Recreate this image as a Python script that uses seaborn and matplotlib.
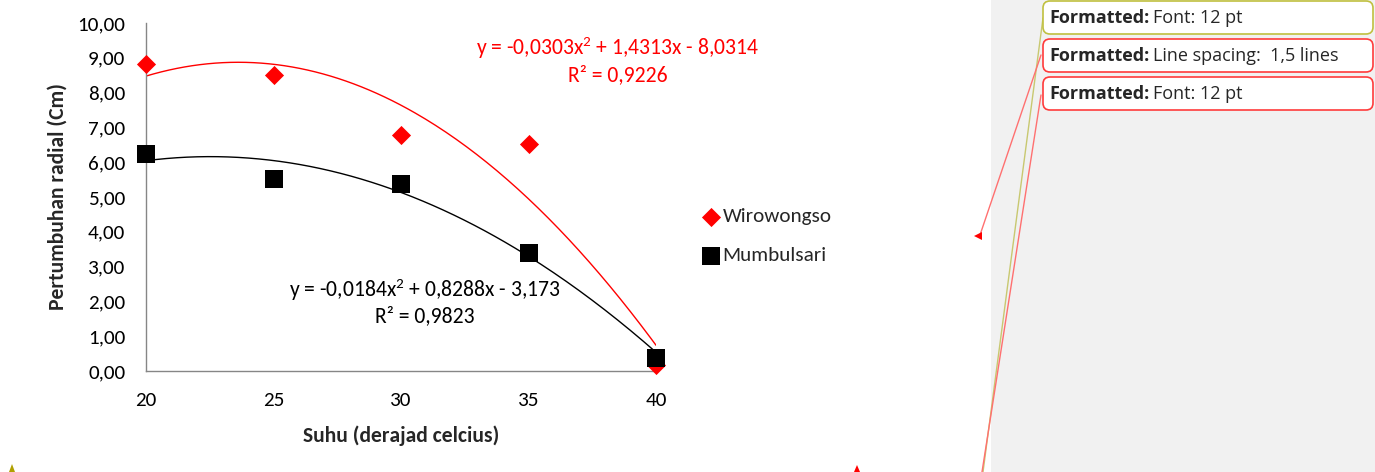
"""
Radial growth vs temperature, with Word comment balloons on the right.
"""

import numpy as np
import pandas as pd
import matplotlib
matplotlib.use("Agg")
import matplotlib.pyplot as plt
import seaborn as sns
from matplotlib.patches import FancyBboxPatch, Rectangle, Polygon
from matplotlib.lines import Line2D

# Data
suhu = [20, 25, 30, 35, 40]
wirowongso = [8.82, 8.50, 6.78, 6.52, 0.17]
mumbulsari = [6.24, 5.52, 5.37, 3.39, 0.37]

# Trendline coefficients (from the chart labels)
coef_wiro = [-0.0303, 1.4313, -8.0314]
coef_mumbul = [-0.0184, 0.8288, -3.173]
eq_wiro = ["y = -0,0303x$^2$ + 1,4313x - 8,0314", "R² = 0,9226"]
eq_mumbul = ["y = -0,0184x$^2$ + 0,8288x - 3,173", "R² = 0,9823"]

y_ticks = [0, 1, 2, 3, 4, 5, 6, 7, 8, 9, 10]
y_ticklabels = [f"{v},00" for v in y_ticks]

balloons = [
    ("Font: 12 pt", "#c0c040"),
    ("Line spacing:  1,5 lines", "#ff3b3b"),
    ("Font: 12 pt", "#ff3b3b"),
]

W, H = 1375, 472
FS = 15.2
sns.set_style("white")
plt.rcParams["font.family"] = ["Carlito", "DejaVu Sans"]
plt.rcParams["mathtext.fontset"] = "custom"
plt.rcParams["mathtext.rm"] = "Carlito"
plt.rcParams["mathtext.it"] = "Carlito"

fig = plt.figure(figsize=(W / 100, H / 100), dpi=100)

# overlay in pixel coordinates for the Word markup
ov = fig.add_axes([0, 0, 1, 1])
ov.set_xlim(0, W)
ov.set_ylim(H, 0)
ov.axis("off")
ov.patch.set_alpha(0)

ax = fig.add_axes([146 / W, 1 - 371 / H, (656 - 146) / W, (371 - 23) / H])

df = pd.DataFrame({"suhu": suhu, "Wirowongso": wirowongso, "Mumbulsari": mumbulsari})

# trendlines
xs = np.linspace(20, 40, 200)
trend = pd.DataFrame({"x": xs,
                      "wiro": np.polyval(coef_wiro, xs),
                      "mumbul": np.polyval(coef_mumbul, xs)})
sns.lineplot(data=trend, x="x", y="wiro", color="#ff0000", lw=1.0, ax=ax, legend=False)
sns.lineplot(data=trend, x="x", y="mumbul", color="#000000", lw=1.0, ax=ax, legend=False)

sns.scatterplot(data=df, x="suhu", y="Wirowongso", marker="D", s=95, color="#ff0000",
                linewidth=0, ax=ax, label="Wirowongso", zorder=3, clip_on=False)
sns.scatterplot(data=df, x="suhu", y="Mumbulsari", marker="s", s=150, color="#000000",
                linewidth=0, ax=ax, label="Mumbulsari", zorder=4, clip_on=False)

ax.set_xlim(20, 40)
ax.set_ylim(0, 10)
ax.set_xticks(suhu)
ax.set_xticklabels([str(v) for v in suhu], fontsize=FS)
ax.set_yticks(y_ticks)
ax.set_yticklabels(y_ticklabels, fontsize=FS)
ax.tick_params(axis="both", direction="out", length=5, width=1,
               colors="#868686", labelcolor="#000000")
ax.tick_params(axis="y", pad=10)
ax.tick_params(axis="x", pad=10)
for side in ["top", "right"]:
    ax.spines[side].set_visible(False)
for side in ["left", "bottom"]:
    ax.spines[side].set_color("#868686")
    ax.spines[side].set_linewidth(1)
ax.set_xlabel("Suhu (derajad celcius)", fontsize=15.6, fontweight="bold", labelpad=12)
ax.set_ylabel("Pertumbuhan radial (Cm)", fontsize=15.6, fontweight="bold", labelpad=7)
ax.patch.set_alpha(0)

ax.legend(loc="center left", bbox_to_anchor=(692 / W, 1 - 236 / H),
          bbox_transform=fig.transFigure, frameon=False, fontsize=FS,
          handletextpad=0.05, labelspacing=1.0, handlelength=1.0, borderaxespad=0)

# equation labels
ov.text(618, 48, eq_wiro[0], color="#ff0000", fontsize=15.6, ha="center", va="center")
ov.text(618, 75, eq_wiro[1], color="#ff0000", fontsize=15.6, ha="center", va="center")
ov.text(425, 290, eq_mumbul[0], color="#000000", fontsize=15.6, ha="center", va="center")
ov.text(425, 316, eq_mumbul[1], color="#000000", fontsize=15.6, ha="center", va="center")

# Word markup pane
ov.add_patch(Rectangle((991, 0), W - 991, H, facecolor="#f1f1f1", edgecolor="none", zorder=0))

# connector lines
ov.add_line(Line2D([1043, 983], [18, 472], color="#c8c870", lw=1, zorder=1))
ov.add_line(Line2D([1041, 980], [55, 235], color="#ff7070", lw=1, zorder=1))
ov.add_line(Line2D([1041, 982], [95, 472], color="#ff7070", lw=1, zorder=1))
ov.add_patch(Polygon([[974, 236], [982, 232], [982, 240]], closed=True,
                     facecolor="#ff0000", edgecolor="none", zorder=2))

# small insertion markers at the bottom
ov.add_patch(Polygon([[9, 472], [15, 472], [12, 464]], closed=True,
                     facecolor="#b0a000", edgecolor="none"))
ov.add_patch(Polygon([[854, 472], [860, 472], [857, 465]], closed=True,
                     facecolor="#ff0000", edgecolor="none"))

# comment balloons
tops = [1, 39, 77]
texts_norm = []
for (msg, col), top in zip(balloons, tops):
    ov.add_patch(FancyBboxPatch((1043, top), 330, 33,
                                boxstyle="round,pad=0,rounding_size=7",
                                facecolor="white", edgecolor=col, lw=1.2, zorder=3))
    tb = ov.text(1049, top + 17, "Formatted:", fontsize=13, fontweight="bold",
                 family=["Open Sans", "DejaVu Sans"], va="center", ha="left", zorder=4)
    texts_norm.append((tb, msg, top))

fig.canvas.draw()
renderer = fig.canvas.get_renderer()
inv = ov.transData.inverted()
for tb, msg, top in texts_norm:
    bb = tb.get_window_extent(renderer)
    x_end = inv.transform((bb.x1, bb.y0))[0]
    ov.text(x_end + 4, top + 17, msg, fontsize=13, family=["Open Sans", "DejaVu Sans"],
            va="center", ha="left", zorder=4)

fig.savefig("out.png", dpi=100)
